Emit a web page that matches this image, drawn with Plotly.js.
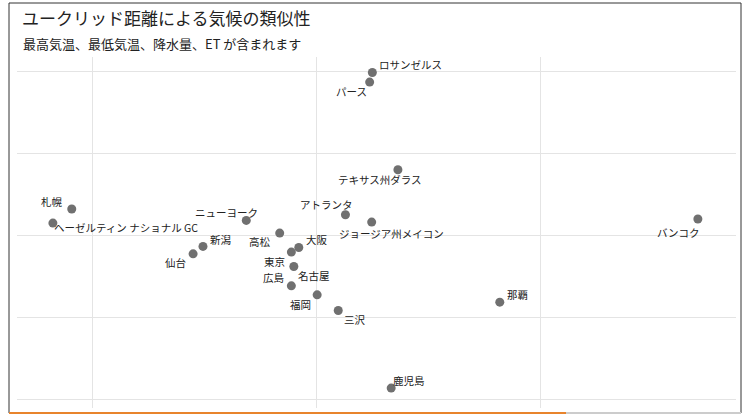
<!DOCTYPE html>
<html>
<head>
<meta charset="utf-8">
<script src="https://cdn.plot.ly/plotly-3.0.1.min.js"></script>
<style>
  html, body { margin: 0; padding: 0; background: #fff; }
  #chart { width: 748px; height: 414px; }
</style>
</head>
<body>
<div id="chart"></div>
<script>
const cities = [
  "ロサンゼルス", "パース", "テキサス州ダラス", "アトランタ", "ジョージア州メイコン",
  "ニューヨーク", "札幌", "ヘーゼルティン ナショナル GC", "高松", "新潟",
  "仙台", "大阪", "東京", "名古屋", "広島",
  "福岡", "三沢", "那覇", "鹿児島", "バンコク"
];
const dim1 = [
  0.249, 0.237, 0.363, 0.129, 0.246,
  -0.313, -1.091, -1.175, -0.164, -0.506,
  -0.550, -0.079, -0.112, -0.101, -0.112,
  0.003, 0.097, 0.817, 0.333, 1.700
];
const dim2 = [
  1.991, 1.874, 0.805, 0.256, 0.167,
  0.187, 0.326, 0.155, 0.033, -0.130,
  -0.220, -0.143, -0.199, -0.374, -0.610,
  -0.720, -0.911, -0.809, -1.857, 0.204
];
// label placement (pixel offsets of label centre from its point: right, up)
const labelShiftX = [
  38, -18, -18, -19, 20,
  -20, -20, 73, -20, 18,
  -18, 18, -17, 20, -18,
  -17, 17, 18, 18, -19
];
const labelShiftY = [
  8, -9, -10, 10, -11,
  8, 8, -4, -8, 7,
  -9, 8, -9, -9, 8,
  -10, -9, 8, 8, -13
];

const titleText = "ユークリッド距離による気候の類似性";
const subtitleText = "最高気温、最低気温、降水量、ET が含まれます";

const FONT = "'Noto Sans CJK JP', 'Noto Sans', sans-serif";

const trace = {
  type: "scatter",
  mode: "markers",
  x: dim1,
  y: dim2,
  text: cities,
  marker: { size: 9, color: "#707070" },
  hoverinfo: "text",
  cliponaxis: false
};

const L = 17, R = 12, T = 57, B = 6, W = 748, H = 414;
const pw = W - L - R, ph = H - T - B;
const px = v => (v - L) / pw;
const py = v => 1 + (T - v) / ph;

const labelAnnotations = cities.map((c, i) => ({
  text: c,
  x: dim1[i], y: dim2[i],
  xref: "x", yref: "y",
  xanchor: "center", yanchor: "middle",
  xshift: labelShiftX[i], yshift: labelShiftY[i],
  showarrow: false,
  font: { family: FONT, size: 10.5, color: "#222" }
}));

const layout = {
  width: W,
  height: H,
  margin: { l: L, r: R, t: T, b: B },
  paper_bgcolor: "#fff",
  plot_bgcolor: "#fff",
  showlegend: false,
  title: {
    text: titleText,
    font: { family: FONT, size: 17, color: "#222" },
    xref: "container", yref: "container",
    x: 22 / W, xanchor: "left",
    y: 1 - 19 / H, yanchor: "middle"
  },
  annotations: [{
    text: subtitleText,
    xref: "paper", yref: "paper",
    x: px(21), xanchor: "left",
    y: py(43), yanchor: "middle",
    showarrow: false,
    font: { family: FONT, size: 13, color: "#222" }
  }].concat(labelAnnotations),
  xaxis: {
    range: [-1.335, 1.87],
    tick0: 0, dtick: 1,
    showgrid: true, gridcolor: "#e4e4e4", gridwidth: 1,
    zeroline: false, showticklabels: false, ticks: "",
    showline: false
  },
  yaxis: {
    range: [-2.1, 2.18],
    tick0: 0, dtick: 1,
    showgrid: true, gridcolor: "#e4e4e4", gridwidth: 1,
    zeroline: false, showticklabels: false, ticks: "",
    showline: false
  },
  shapes: [
    { type: "line", xref: "paper", yref: "paper", x0: px(9), x1: px(741), y0: py(3), y1: py(3), line: { color: "#333", width: 1 } },
    { type: "line", xref: "paper", yref: "paper", x0: px(9), x1: px(9), y0: py(3), y1: py(413), line: { color: "#333", width: 1 } },
    { type: "line", xref: "paper", yref: "paper", x0: px(741), x1: px(741), y0: py(3), y1: py(413), line: { color: "#333", width: 1 } },
    { type: "line", xref: "paper", yref: "paper", x0: px(566), x1: px(741), y0: py(413), y1: py(413), line: { color: "#cccccc", width: 2 } },
    { type: "line", xref: "paper", yref: "paper", x0: px(9), x1: px(566), y0: py(413), y1: py(413), line: { color: "#e8842c", width: 2 } }
  ]
};

Plotly.newPlot("chart", [trace], layout, { displayModeBar: false, staticPlot: true });
</script>
</body>
</html>
